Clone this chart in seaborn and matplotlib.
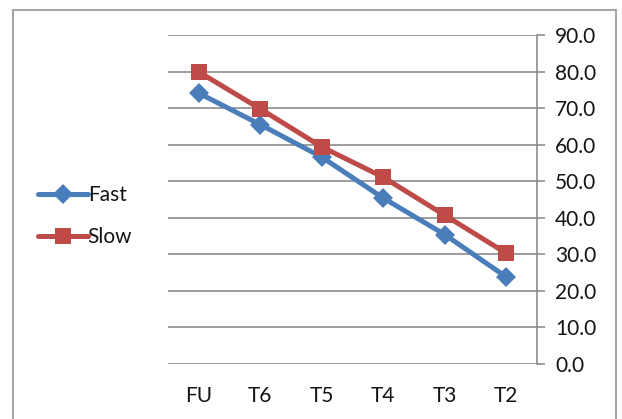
import matplotlib
matplotlib.use("Agg")
import matplotlib.pyplot as plt
import matplotlib.patches as mpatches
from matplotlib.ticker import FixedLocator, FormatStrFormatter
import pandas as pd
import seaborn as sns

# data
categories = ["FU", "T6", "T5", "T4", "T3", "T2"]
fast = [74.1, 65.5, 56.6, 45.4, 35.4, 23.8]
slow = [79.9, 69.8, 59.4, 51.1, 40.7, 30.3]

df = pd.DataFrame({
    "stage": categories * 2,
    "value": fast + slow,
    "series": ["Fast"] * len(fast) + ["Slow"] * len(slow),
})

sns.set_style("white")
plt.rcParams["font.family"] = ["Lato", "DejaVu Sans"]

W, H = 622, 419
fs = 15
txt_c = "#141414"
fig = plt.figure(figsize=(W / 100, H / 100), dpi=100)
ax = fig.add_axes([168 / W, 1 - 364 / H, (537 - 168) / W, (364 - 35) / H])

palette = {"Fast": "#4a7ebb", "Slow": "#be4b48"}
sns.lineplot(data=df, x="stage", y="value", hue="series", style="series",
             markers={"Fast": "D", "Slow": "s"}, dashes=False,
             palette=palette, linewidth=3.6, markersize=10,
             markeredgewidth=0, ax=ax, sort=False)
# Excel squares look a bit bigger than the diamonds
for line in ax.get_lines():
    if line.get_marker() == "s":
        line.set_markersize(12)

grid_c = "#8c8c8c"
ax.set_xlim(-0.5, len(categories) - 0.5)
ax.set_ylim(0, 90)
ax.yaxis.set_major_locator(FixedLocator(range(0, 91, 10)))
ax.yaxis.set_major_formatter(FormatStrFormatter("%.1f"))
ax.yaxis.tick_right()
ax.grid(axis="y", color=grid_c, linewidth=1.2)
ax.grid(axis="x", visible=False)
ax.set_axisbelow(True)
for side in ["left", "top", "bottom"]:
    ax.spines[side].set_visible(False)
ax.spines["right"].set_color(grid_c)
ax.spines["right"].set_linewidth(1.2)

ax.tick_params(axis="y", which="major", direction="out", length=6, width=1.2,
               color=grid_c, labelsize=fs, labelcolor=txt_c, pad=7)
ax.set_xticks(range(len(categories)))
ax.set_xticklabels(categories)
ax.set_xticks([i - 0.5 for i in range(len(categories) + 1)], minor=True)
ax.tick_params(axis="x", which="major", length=0, labelsize=fs,
               labelcolor=txt_c, pad=16)
ax.tick_params(axis="x", which="minor", direction="out", length=6, width=1.2,
               color=grid_c)
ax.set_xlabel("")
ax.set_ylabel("")

handles, labels = ax.get_legend_handles_labels()
ax.get_legend().remove()
fig.legend(handles, labels, loc="center left",
           bbox_to_anchor=(19 / W, 1 - 216 / H), frameon=False,
           fontsize=fs, handlelength=2.4, handletextpad=0.0,
           labelspacing=1.05, labelcolor=txt_c)

# outer chart border (bottom edge falls outside the image)
fig.patches.append(mpatches.Rectangle(
    (12.5 / W, -0.05), (616 - 12.5) / W, 1.05 - 10 / H,
    transform=fig.transFigure, fill=False, edgecolor="#a6a6a6",
    linewidth=1.5))

fig.savefig("out.png", dpi=100)
